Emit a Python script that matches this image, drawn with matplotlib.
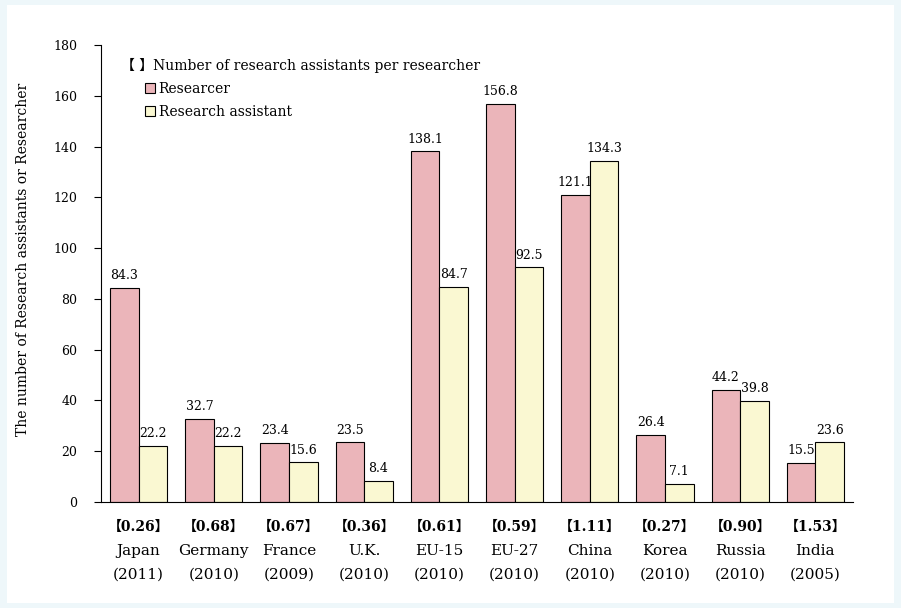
import matplotlib.pyplot as plt
import matplotlib.patches as mpatches
import numpy as np

countries = ["Japan", "Germany", "France", "U.K.", "EU-15", "EU-27",
             "China", "Korea", "Russia", "India"]
years = ["(2011)", "(2010)", "(2009)", "(2010)", "(2010)", "(2010)",
         "(2010)", "(2010)", "(2010)", "(2005)"]
ratios = ["0.26", "0.68", "0.67", "0.36", "0.61", "0.59",
          "1.11", "0.27", "0.90", "1.53"]
researcher = [84.3, 32.7, 23.4, 23.5, 138.1, 156.8, 121.1, 26.4, 44.2, 15.5]
assistant = [22.2, 22.2, 15.6, 8.4, 84.7, 92.5, 134.3, 7.1, 39.8, 23.6]

pink = "#ebb5ba"
yellow = "#faf8d2"
fam = ["DejaVu Serif", "Noto Sans CJK JP"]
plt.rcParams['font.family'] = fam

fig = plt.figure(figsize=(9.01, 6.08), dpi=100)
fig.patch.set_facecolor("#eef7fa")
fig.patches.append(mpatches.Rectangle((7 / 901, 5 / 608), 887 / 901, 598 / 608,
                                      transform=fig.transFigure, facecolor="white",
                                      edgecolor="none", zorder=-10))
ax = fig.add_axes([101 / 901, 1 - 502 / 608, 752 / 901, 457 / 608])
ax.set_facecolor("none")

x = np.arange(len(countries))
w = 0.38
b1 = ax.bar(x - w / 2, researcher, w, color=pink, edgecolor="black", linewidth=0.8)
b2 = ax.bar(x + w / 2, assistant, w, color=yellow, edgecolor="black", linewidth=0.8)

for bars, vals in ((b1, researcher), (b2, assistant)):
    for bar, v in zip(bars, vals):
        ax.annotate(f"{v:.1f}", (bar.get_x() + bar.get_width() / 2, v),
                    xytext=(0, 4), textcoords="offset points",
                    ha="center", va="bottom", fontsize=9)

ax.set_xlim(-0.5, 9.5)
ax.set_ylim(0, 180)
ax.set_yticks(range(0, 181, 20))
ax.tick_params(axis="y", direction="out", length=5, width=0.8, labelsize=9, pad=12)
ax.set_xticks([])
for s in ("top", "right"):
    ax.spines[s].set_visible(False)
ax.spines["left"].set_linewidth(0.8)
ax.spines["bottom"].set_linewidth(0.8)

ax.set_ylabel("The number of Research assistants or Researcher", fontsize=10)
ax.yaxis.set_label_coords(-0.094, 0.53)

trans = ax.get_xaxis_transform()
for i in range(len(countries)):
    ax.text(x[i], -0.055, "【" + ratios[i] + "】", transform=trans, ha="center",
            va="center", fontsize=10, fontweight="bold", family=fam)
    ax.text(x[i], -0.108, countries[i], transform=trans, ha="center",
            va="center", fontsize=11)
    ax.text(x[i], -0.16, years[i], transform=trans, ha="center",
            va="center", fontsize=11)

ax.text(0.026, 0.955, "【 】Number of research assistants per researcher",
        transform=ax.transAxes, ha="left", va="center", fontsize=10, family=fam)
handles = [mpatches.Patch(facecolor=pink, edgecolor="black", linewidth=0.8),
           mpatches.Patch(facecolor=yellow, edgecolor="black", linewidth=0.8)]
ax.legend(handles, ["Researcer", "Research assistant"], loc="upper left",
          bbox_to_anchor=(0.058, 0.92), frameon=False, fontsize=10,
          handlelength=0.75, handleheight=0.75, handletextpad=0.25,
          labelspacing=0.65, borderaxespad=0, borderpad=0)

fig.savefig("out.png", dpi=100, facecolor=fig.get_facecolor())
